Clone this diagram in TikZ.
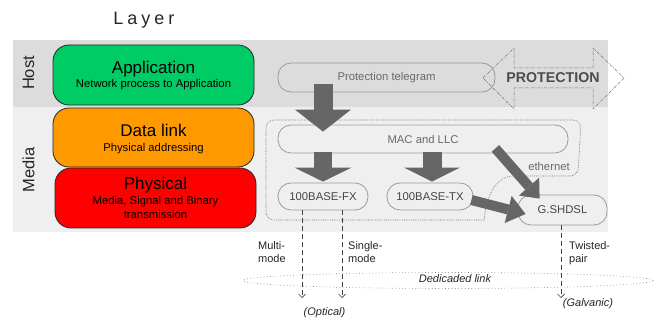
\documentclass[tikz,border=0pt]{standalone}
\usepackage{fontspec}
\setmainfont{Liberation Sans}
\usetikzlibrary{arrows.meta,calc,shapes.geometric}
\definecolor{hostbg}{HTML}{DCDCDC}
\definecolor{mediabg}{HTML}{EFEFEF}
\definecolor{appgreen}{HTML}{00CC66}
\definecolor{dlorange}{HTML}{FF9900}
\definecolor{phyred}{HTML}{FF0000}
\definecolor{arrowgray}{HTML}{666666}
\definecolor{boxline}{HTML}{9A9A9A}
\definecolor{txtgray}{HTML}{6A6A6A}
\definecolor{darktxt}{HTML}{454545}
\begin{document}
\begin{tikzpicture}[x=1pt,y=-1pt,
  layerbox/.style={draw=black!85, line width=0.8pt, rounded corners=16pt,
    minimum width=201pt, minimum height=60pt, inner sep=0pt},
  bigtitle/.style={anchor=base, inner sep=0pt, font=\fontsize{17}{20}\selectfont},
  subtitle/.style={anchor=base, inner sep=0pt, font=\fontsize{11.3}{13}\selectfont},
  sidelabel/.style={rotate=90, inner sep=0pt, font=\fontsize{16.5}{20}\selectfont, text=black!85},
  protbox/.style={draw=boxline, line width=0.8pt, rounded corners=13pt, inner sep=0pt,
    font=\fontsize{11.3}{13}\selectfont},
  bigarrow/.style={draw=arrowgray, line width=#1},
  dasharrow/.style={draw=black!75, line width=0.7pt, dash pattern=on 5pt off 3pt,
    -{Straight Barb[length=3.5pt,width=7pt,line width=0.7pt]}},
  smalltxt/.style={inner sep=0pt, font=\fontsize{11}{13}\selectfont, align=left, anchor=north west, text=black!85},
  itxt/.style={inner sep=0pt, font=\fontsize{11}{13}\selectfont\itshape, text=black!85}
]
\useasboundingbox (0,0) rectangle (654,323);
% bands
\fill[hostbg] (13,40) rectangle (608,107);
\fill[mediabg] (13,107) rectangle (608,232);

% title
\node[inner sep=0pt, font=\fontsize{18}{20}\selectfont, text=black!85] (title) at (144,20)
  {L\kern4pt a\kern4pt y\kern4pt e\kern4pt r};

% side labels
\node[sidelabel] (host) at (28.5,73) {Host};
\node[sidelabel] (media) at (28.5,170) {Media};

% layer boxes
\node[layerbox, fill=appgreen] (app) at (153.5,75) {};
\node[bigtitle] (appt) at (153.5,74) {Application};
\node[subtitle] (apps) at (153.5,87.5) {Network process to Application};

\node[layerbox, fill=dlorange, minimum height=59pt] (dl) at (153.5,137.5) {};
\node[bigtitle] (dlt) at (153.5,137) {Data link};
\node[subtitle] (dls) at (153.5,151.5) {Physical addressing};

\node[layerbox, fill=phyred] (phy) at (155.5,198) {};
\node[bigtitle] (phyt) at (155.5,189.5) {Physical};
\node[subtitle] (phys1) at (155.5,205) {Media, Signal and Binary};
\node[subtitle] (phys2) at (155.5,218.5) {transmission};

% ethernet region
\draw[draw=black!60, line width=0.6pt, dash pattern=on 0.7pt off 1.1pt, rounded corners=8pt]
  (484,220) -- (266,220) -- (266,120) -- (581,120) -- (578,176) -- (522,176)
  [sharp corners] .. controls (497,176) and (487,193) .. (484,220);
\node[inner sep=0pt, font=\fontsize{11.3}{13}\selectfont, text=txtgray] (eth) at (549,166) {ethernet};

% PROTECTION double arrow
\draw[draw=black!55, line width=0.5pt, dash pattern=on 3pt off 1.2pt on 0.8pt off 1.2pt]
  (483,78) -- (514,48) -- (514,68) -- (593,68) -- (593,48) -- (624,78)
  -- (593,109) -- (593,88) -- (514,88) -- (514,109) -- cycle;
\node[inner sep=0pt, font=\fontsize{14.2}{16}\selectfont\bfseries, text=black!70] (prot) at (553,78) {PROTECTION};

% protocol boxes
\node[protbox, minimum width=217pt, minimum height=29pt, text=txtgray] (pt) at (386.5,77.5) {Protection telegram};
\node[protbox, minimum width=290pt, minimum height=28pt, text=txtgray] (mac) at (423,139) {MAC and LLC};
\node[protbox, minimum width=90pt, minimum height=27pt, text=darktxt] (fx) at (323,196.5) {100BASE-FX};
\node[protbox, minimum width=86pt, minimum height=27pt, text=darktxt] (tx) at (430,196.5) {100BASE-TX};
\node[protbox, minimum width=89pt, minimum height=30pt, text=darktxt] (gs) at (562.5,210) {G.SHDSL};

% big arrows
\draw[bigarrow=19pt, -{Triangle[width=56pt,length=22pt,line width=0pt]}]
  ($(pt.south -| fx.north)+(0,-8)$) -- ($(mac.north -| fx.north)+(0,7)$);
\draw[bigarrow=18pt, -{Triangle[width=57pt,length=14pt,line width=0pt]}]
  ($(mac.south -| fx.north)+(0,-1)$) -- ($(fx.north)+(0,-1)$);
\draw[bigarrow=19pt, -{Triangle[width=56pt,length=14pt,line width=0pt]}]
  ($(mac.south -| tx.north)+(2,-1)$) -- ($(tx.north)+(2,-1)$);
\draw[bigarrow=10pt, -{Triangle[width=27pt,length=16pt,line width=0pt]}]
  ($(mac.south east)+(-73,-5)$) -- ($(gs.north west)+(22,4)$);
\draw[bigarrow=10pt, -{Triangle[width=28pt,length=18pt,line width=0pt]}]
  ($(tx.east)+(-2,3.5)$) -- ($(gs.west)+(8,4)$);

% dedicated link ellipse
\node[ellipse, draw=black!50, line width=0.6pt, dash pattern=on 0.7pt off 2.6pt,
  minimum width=410pt, minimum height=16pt, inner sep=0pt] (link) at (448,280.5) {};
\node[itxt] (linkt) at (455,279) {Dedicaded link};

% media lines
\coordinate (mm) at (302,298);
\coordinate (sm) at (342,298);
\coordinate (tp) at (561,298);
\draw[dasharrow] (fx.south -| mm) -- (mm);
\draw[dasharrow] (fx.south -| sm) -- (sm);
\draw[dasharrow] (gs.south -| tp) -- (tp);

\node[smalltxt] (multi) at (258,241) {Multi-\\mode};
\node[smalltxt] (single) at (348,241) {Single-\\mode};
\node[smalltxt] (twist) at (569,241) {Twisted-\\pair};
\node[itxt] (optical) at (324.5,313) {(Optical)};
\node[itxt] (galv) at (588,304) {(Galvanic)};
\end{tikzpicture}
\end{document}
